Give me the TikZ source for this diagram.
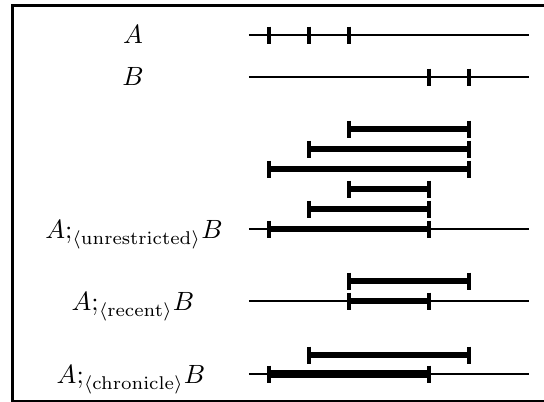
\documentclass[tikz,border=0pt]{standalone}
\begin{document}
\begin{tikzpicture}[x=0.3788pt,y=-0.3788pt,
  frameline/.style={line width=1.15pt},
  timeline/.style={line width=0.9pt},
  ival/.style={line width=1.9pt},
  ivalbold/.style={line width=2.7pt},
  tickmark/.style={line width=1.75pt},
  lbl/.style={inner sep=0pt,anchor=base}]
\useasboundingbox (0,0) rectangle (544,402);
% frame (right side lies outside the picture)
\coordinate (f1) at (550,5.5);
\coordinate (f2) at (12.5,5.5);
\coordinate (f3) at (12.5,401.5);
\coordinate (f4) at (550,401.5);
\draw[frameline] (f1) -- (f2) -- (f3) -- (f4);
% helpers: x(t)=229+40t
\newcommand\tk[2]{\draw[tickmark] ({229+40*#1},{#2-8.5}) -- ({229+40*#1},{#2+8.5});}
\newcommand\tl[2]{%
  \coordinate (#1s) at (249,#2);
  \coordinate (#1e) at (529,#2);
  \draw[timeline] (#1s) -- (#1e);}
\newcommand\iv[5]{%
  \coordinate (#1s) at ({229+40*#3},#2);
  \coordinate (#1e) at ({229+40*#4},#2);
  \draw[#5] (#1s) -- (#1e);
  \tk{#3}{#2}\tk{#4}{#2}}
% labels
\node[lbl] (la) at (133,43.5) {$A$};
\node[lbl] (lb) at (133,85.5) {$B$};
\node[lbl] (lu) at (134,238) {$A{;}_{\langle\mathrm{unrestricted}\rangle}B$};
\node[lbl] (lr) at (133,310) {$A{;}_{\langle\mathrm{recent}\rangle}B$};
\node[lbl] (lc) at (131,383) {$A{;}_{\langle\mathrm{chronicle}\rangle}B$};
% A and B
\tl{ta}{35}\tk{1}{35}\tk{2}{35}\tk{3}{35}
\tl{tb}{77}\tk{5}{77}\tk{6}{77}
% unrestricted
\iv{r1}{129}{3}{6}{ival}
\iv{r2}{149}{2}{6}{ival}
\iv{r3}{169}{1}{6}{ival}
\iv{r4}{189}{3}{5}{ival}
\iv{r5}{209}{2}{5}{ival}
\tl{tu}{229}\iv{r6}{229}{1}{5}{ival}
% recent
\iv{s1}{281}{3}{6}{ival}
\tl{tr}{301}\iv{s2}{301}{3}{5}{ival}
% chronicle
\iv{c1}{355}{2}{6}{ival}
\tl{tc}{374}\iv{c2}{374}{1}{5}{ivalbold}
\end{tikzpicture}
\end{document}
